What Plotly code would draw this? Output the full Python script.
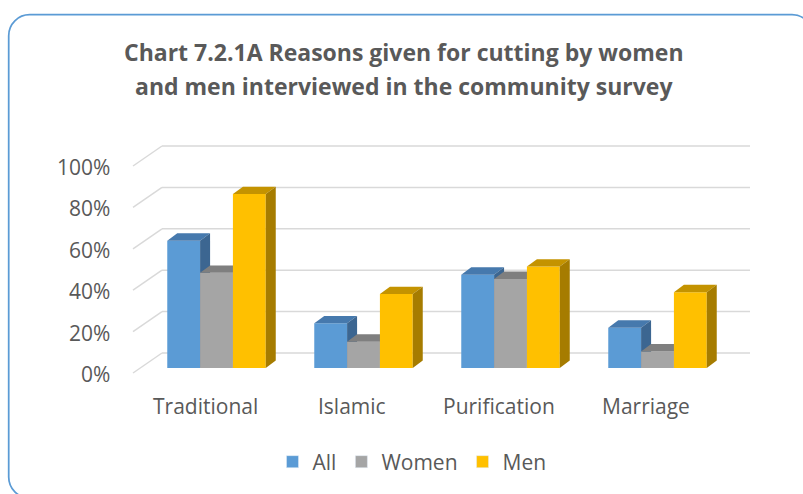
import plotly.graph_objects as go

# ---------------- data ----------------
categories = ["Traditional", "Islamic", "Purification", "Marriage"]
series_names = ["All", "Women", "Men"]
all_vals = [61.5, 21.6, 45.1, 19.5]
women_vals = [46.0, 12.7, 43.0, 8.0]
men_vals = [84.0, 35.7, 49.0, 36.6]
tick_vals = [0, 20, 40, 60, 80, 100]
tick_text = ["0%", "20%", "40%", "60%", "80%", "100%"]

# ---------------- styles ----------------
W, H = 803, 494
L, R, T, B = 100, 780, 130, 420          # plot area in pixels
X0_PX, CAT_PX = 216.5, 147.0             # category 0 centre px, px per category
Y0_PX, PCT_PX = 368.0, 2.07              # 0% px (bar plane), px per percent

def xd(px):
    return (px - X0_PX) / CAT_PX

def yd(py):
    return (Y0_PX - py) / PCT_PX

def xp(px):
    return (px - L) / (R - L)

def yp(py):
    return (B - py) / (B - T)

front_cols = ["#5B9BD5", "#A5A5A5", "#FFC000"]
top_cols = ["#4679AD", "#7F7F7F", "#C49300"]
side_cols = ["#3C6691", "#6E6E6E", "#A67C00"]
TXT = "#595959"
GRID = "#D9D9D9"
FONT = "Open Sans"

GROUP_W = 0.67
BAR_W = GROUP_W / 3
DDX, DDY = 10 / CAT_PX, 7.4 / PCT_PX          # bar depth
BACK_DX, BACK_DY = 19 / CAT_PX, 15 / PCT_PX   # back wall offset from bar plane
FRONT_DX, FRONT_DY = -10 / CAT_PX, -5 / PCT_PX  # front edge offset

fig = go.Figure()

# gridlines (back wall + left wall diagonals)
shapes = []
for v in tick_vals:
    shapes.append(dict(type="line", xref="x", yref="y", layer="below",
                       x0=-0.5 + BACK_DX, x1=len(categories) - 0.5 + BACK_DX,
                       y0=v + BACK_DY, y1=v + BACK_DY,
                       line=dict(color=GRID, width=1.5)))
    shapes.append(dict(type="line", xref="x", yref="y", layer="below",
                       x0=-0.5 + FRONT_DX, x1=-0.5 + BACK_DX,
                       y0=v + FRONT_DY, y1=v + BACK_DY,
                       line=dict(color=GRID, width=1.5)))

# 3D bars as polygons
series = [all_vals, women_vals, men_vals]
for k, vals in enumerate(series):
    for i, v in enumerate(vals):
        l = i - GROUP_W / 2 + k * BAR_W
        r = l + BAR_W
        # front
        fig.add_trace(go.Scatter(x=[l, r, r, l, l], y=[0, 0, v, v, 0], fill="toself",
                                 fillcolor=front_cols[k], mode="lines",
                                 line=dict(width=0, color=front_cols[k]),
                                 showlegend=False, hoverinfo="skip"))
        # top
        fig.add_trace(go.Scatter(x=[l, r, r + DDX, l + DDX, l], y=[v, v, v + DDY, v + DDY, v],
                                 fill="toself", fillcolor=top_cols[k], mode="lines",
                                 line=dict(width=0, color=top_cols[k]),
                                 showlegend=False, hoverinfo="skip"))
        # side
        fig.add_trace(go.Scatter(x=[r, r + DDX, r + DDX, r, r], y=[0, DDY, v + DDY, v, 0],
                                 fill="toself", fillcolor=side_cols[k], mode="lines",
                                 line=dict(width=0, color=side_cols[k]),
                                 showlegend=False, hoverinfo="skip"))

# legend entries
for k, name in enumerate(series_names):
    fig.add_trace(go.Bar(x=[None], y=[None], name=name, marker=dict(color=front_cols[k])))

annotations = []
# y tick labels
for v, t in zip(tick_vals, tick_text):
    annotations.append(dict(x=xd(112), y=v - 2.9, xref="x", yref="y", text=t,
                            showarrow=False, xanchor="right", yanchor="middle",
                            font=dict(family=FONT, size=21, color=TXT)))
# category labels
for i, c in enumerate(categories):
    annotations.append(dict(x=i - 11.5 / CAT_PX, y=yd(406), xref="x", yref="y", text=c,
                            showarrow=False, xanchor="center", yanchor="middle",
                            font=dict(family=FONT, size=21, color=TXT)))
# title
title_lines = ["Chart 7.2.1A Reasons given for cutting by women",
               "and men interviewed in the community survey"]
for line, py in zip(title_lines, [52, 86]):
    annotations.append(dict(x=xp(404), y=yp(py), xref="paper", yref="paper",
                            text="<b>" + line + "</b>", showarrow=False,
                            xanchor="center", yanchor="middle",
                            font=dict(family=FONT, size=23, color=TXT)))

# rounded border
bl, bt, br, bb, rad = 8.7, 14.7, 813, 498, 21
kap = 0.5523 * rad
def P(px, py):
    return f"{xp(px):.5f},{yp(py):.5f}"
path = (f"M{P(bl + rad, bt)} L{P(br - rad, bt)} "
        f"C{P(br - rad + kap, bt)} {P(br, bt + rad - kap)} {P(br, bt + rad)} "
        f"L{P(br, bb - rad)} "
        f"C{P(br, bb - rad + kap)} {P(br - rad + kap, bb)} {P(br - rad, bb)} "
        f"L{P(bl + rad, bb)} "
        f"C{P(bl + rad - kap, bb)} {P(bl, bb - rad + kap)} {P(bl, bb - rad)} "
        f"L{P(bl, bt + rad)} "
        f"C{P(bl, bt + rad - kap)} {P(bl + rad - kap, bt)} {P(bl + rad, bt)} Z")
shapes.append(dict(type="path", xref="paper", yref="paper", path=path,
                   line=dict(color="#5B9BD5", width=1.75), layer="above"))

fig.update_layout(
    width=W, height=H,
    margin=dict(l=L, r=W - R, t=T, b=H - B, pad=0),
    paper_bgcolor="white", plot_bgcolor="white",
    xaxis=dict(range=[xd(L), xd(R)], visible=False, fixedrange=True),
    yaxis=dict(range=[yd(B), yd(T)], visible=False, fixedrange=True),
    showlegend=True,
    legend=dict(orientation="h", x=xp(412), xanchor="center", y=yp(462), yanchor="middle",
                font=dict(family=FONT, size=21, color=TXT), bgcolor="rgba(0,0,0,0)",
                itemwidth=30, itemclick=False, itemdoubleclick=False, traceorder="normal"),
    shapes=shapes,
    annotations=annotations,
)

fig.write_html("out.html")
